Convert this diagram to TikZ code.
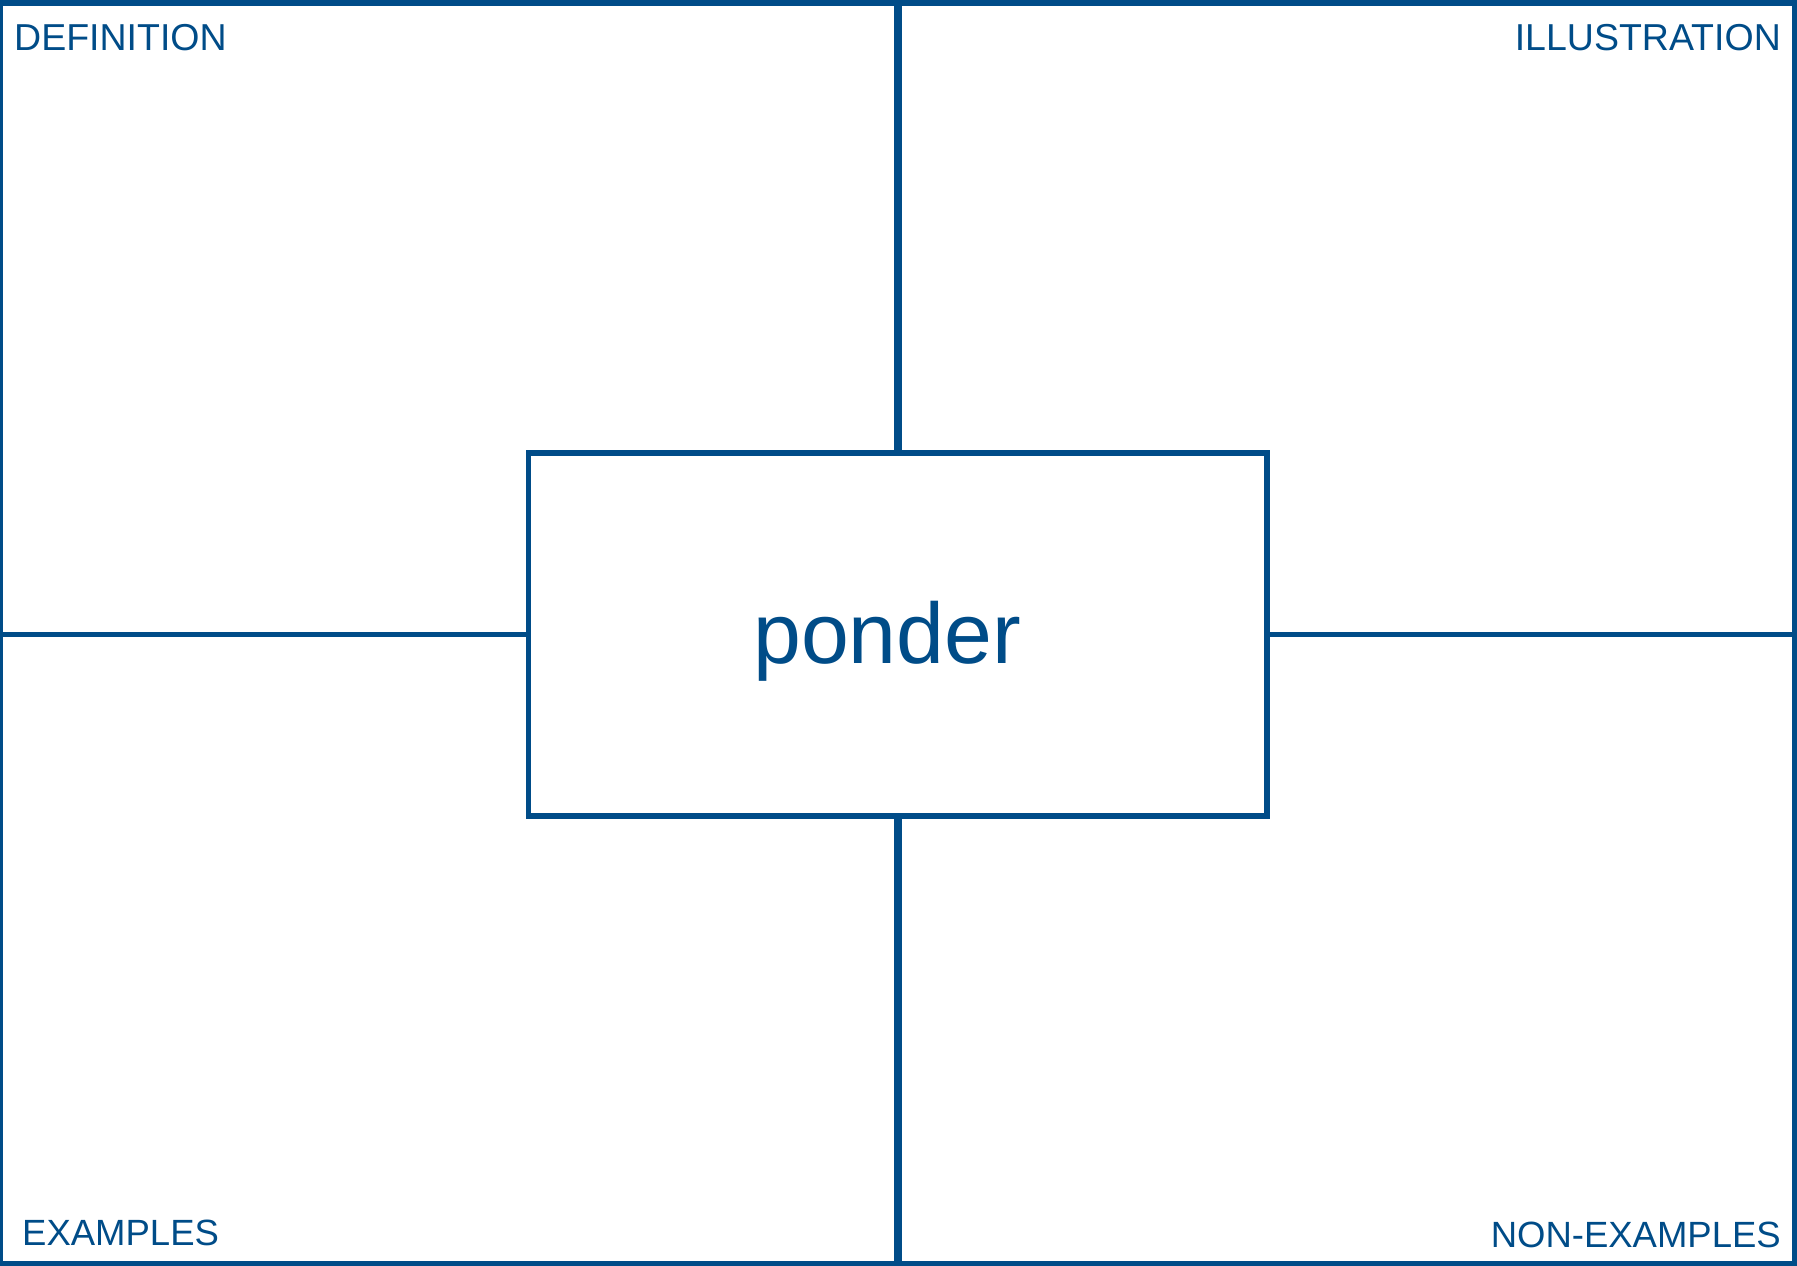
\documentclass[tikz,border=0pt]{standalone}
\usepackage{fontspec}
\setmainfont{Liberation Sans}
\definecolor{navy}{RGB}{0,76,136}
\begin{document}
\begin{tikzpicture}[x=1pt,y=-1pt,
  frame/.style={draw=navy,line width=5.5pt},
  vline/.style={draw=navy,line width=8pt},
  hline/.style={draw=navy,line width=5.5pt},
  corner/.style={text=navy,font=\fontsize{37.5}{40}\selectfont,inner sep=0pt},
  cornerlow/.style={text=navy,font=\fontsize{36.5}{40}\selectfont,inner sep=0pt},
  word/.style={text=navy,font=\fontsize{86}{90}\selectfont,inner sep=0pt}]
\useasboundingbox (0,0) rectangle (1797,1266);
\fill[white] (0,0) rectangle (1797,1266);
\draw[frame] (0.5,2.75) rectangle (1794.5,1263.25);
\coordinate (top) at (897.75,0);
\coordinate (bot) at (897.75,1266);
\coordinate (lft) at (0,634.5);
\coordinate (rgt) at (1797,634.5);
\node[draw=navy,line width=5.5pt,rectangle,minimum width=738.5pt,minimum height=363pt,inner sep=0pt] (box) at (897.75,634.5) {};
\draw[vline] (top) -- (box.north);
\draw[vline] (box.south) -- (bot);
\draw[hline] (lft) -- (box.west);
\draw[hline] (box.east) -- (rgt);
\node[word,anchor=base west] (ponder) at (753,663) {ponder};
\node[corner,anchor=base west] (def) at (14,50) {DEFINITION};
\node[corner,anchor=base east] (ill) at (1781,50) {ILLUSTRATION};
\node[cornerlow,anchor=base west] (ex) at (22,1245) {EXAMPLES};
\node[cornerlow,anchor=base east] (nonex) at (1781,1247) {NON-EXAMPLES};
\end{tikzpicture}
\end{document}
